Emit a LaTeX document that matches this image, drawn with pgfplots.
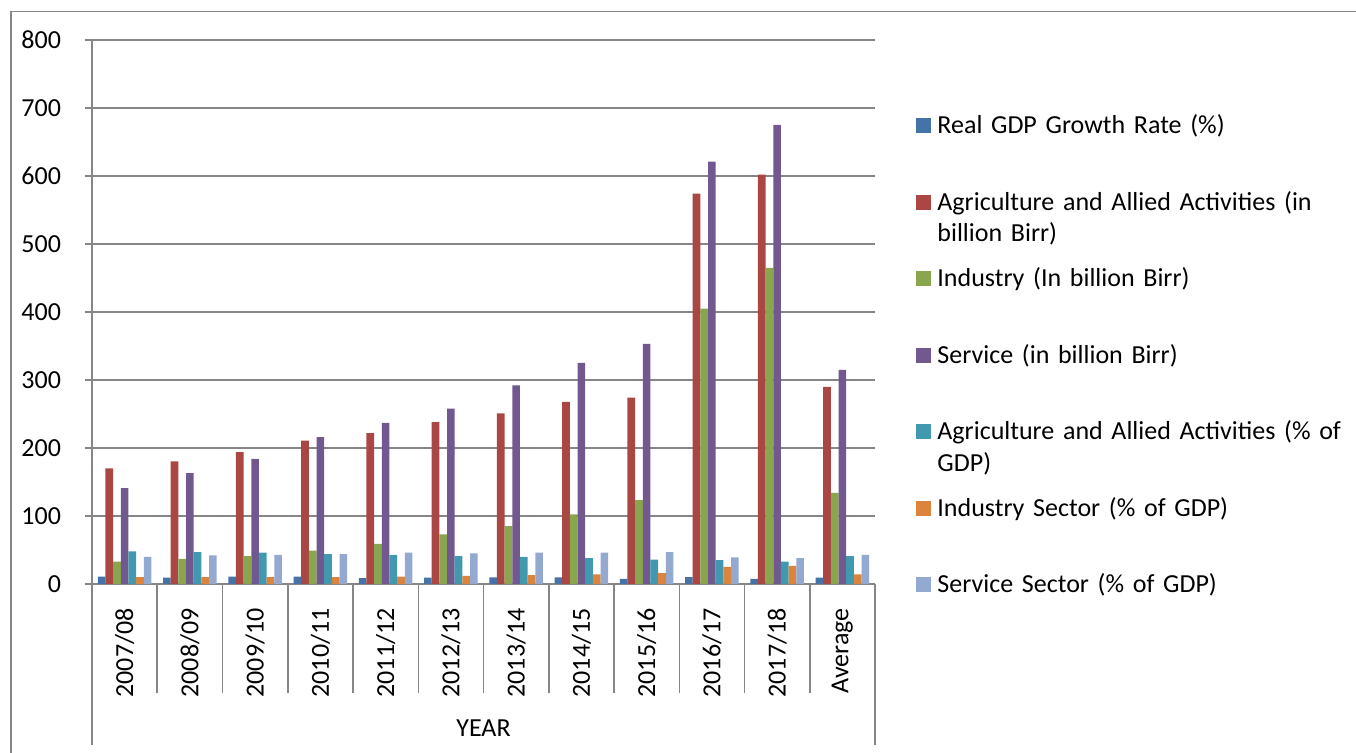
\documentclass[border=0pt]{standalone}
\usepackage{fontspec}
\setmainfont{Carlito}
\usepackage{pgfplots}
\pgfplotsset{compat=1.18}
\usepackage{pgfplotstable}
\definecolor{cA}{HTML}{4572A7}
\definecolor{cB}{HTML}{AA4643}
\definecolor{cC}{HTML}{89A54E}
\definecolor{cD}{HTML}{71588F}
\definecolor{cE}{HTML}{4198AF}
\definecolor{cF}{HTML}{DB843D}
\definecolor{cG}{HTML}{93A9CF}
\definecolor{axgray}{HTML}{868686}
\newcommand{\cf}{\fontsize{13}{15.85}\selectfont}

\pgfplotstableread{
x gdp agr ind ser agrp indp serp
0 10.8 170 33 141 48 10 40
1 9.3 180.5 37 163 47 10 42
2 10.7 194 41 184 46 10 43
3 10.7 211 49 216 44 10 44
4 8.5 222 59 237 43 11 46
5 9.5 238 73 258 41 12 45
6 9.9 251 85 292 40 13 46
7 9.9 268 102.5 325 38 14 46
8 7.5 274 123.5 353 36 16 47
9 10.2 574 405 621 35 25 39
10 7.5 602 465 675 33 26.5 38
11 9.4 290 134 315 41 14 43
}\datatable

\begin{document}
\begin{tikzpicture}
\useasboundingbox (-46pt,-84.5pt) rectangle (632pt,292pt);
\draw[axgray, line width=0.6pt] (-40.5pt,-86pt) -- (-40.5pt,286.25pt) -- (634pt,286.25pt);
\begin{axis}[
  at={(0pt,0pt)}, anchor=south west,
  scale only axis, width=391.5pt, height=272pt,
  xmin=-0.5, xmax=11.5, ymin=0, ymax=800,
  ytick={0,100,...,800},
  xtick={0,...,11},
  xticklabels={2007/08,2008/09,2009/10,2010/11,2011/12,2012/13,2013/14,2014/15,2015/16,2016/17,2017/18,Average},
  axis x line=bottom, axis y line=left,
  axis line style={axgray, line width=0.75pt, -},
  ymajorgrids, grid style={axgray, line width=0.75pt},
  tick align=outside, major tick length=3.5pt,
  ytick style={axgray, line width=0.75pt},
  xtick style={draw=none},
  tick label style={font=\cf},
  /pgf/number format/assume math mode=true,
  yticklabel style={anchor=east, inner sep=0pt, xshift=-11.8pt},
  xticklabel style={yshift=-8.5pt, rotate=90, anchor=east, inner sep=0pt},
  xlabel={YEAR},
  xlabel style={font=\cf, at={(axis description cs:0.5,0)}, anchor=center, yshift=-72pt, inner sep=0pt},
  ybar=0pt, bar width=3.833pt,
  clip=false,
  legend cell align=left,
  legend style={at={(axis description cs:1.0524,0.8653)}, anchor=north west, draw=none, fill=none, inner sep=0pt, font=\cf, row sep=0pt, column sep=3pt, cells={anchor=base west}, nodes={inner sep=0pt, text width=215pt, text height=10pt, text depth=28.25pt, align=left, anchor=base west}},
  legend image code/.code={\draw[#1,draw=none] (0pt,0.3pt) rectangle (7.5pt,7.6pt);},
]
\addplot[fill=cA, draw=none] table[x=x,y=gdp]{\datatable};
\addlegendentry{Real GDP Growth Rate (\%)}
\addplot[fill=cB, draw=none] table[x=x,y=agr]{\datatable};
\addlegendentry{Agriculture and Allied Activities (in\newline billion Birr)}
\addplot[fill=cC, draw=none] table[x=x,y=ind]{\datatable};
\addlegendentry{Industry (In billion Birr)}
\addplot[fill=cD, draw=none] table[x=x,y=ser]{\datatable};
\addlegendentry{Service (in billion Birr)}
\addplot[fill=cE, draw=none] table[x=x,y=agrp]{\datatable};
\addlegendentry{Agriculture and Allied Activities (\% of\newline GDP)}
\addplot[fill=cF, draw=none] table[x=x,y=indp]{\datatable};
\addlegendentry{Industry Sector (\% of GDP)}
\addplot[fill=cG, draw=none] table[x=x,y=serp]{\datatable};
\addlegendentry{Service Sector (\% of GDP)}
\pgfplotsinvokeforeach{0.5,1.5,...,10.5}{\draw[axgray, line width=0.75pt] (axis cs:#1,0) -- ++(0pt,-54.5pt);}
\draw[axgray, line width=0.75pt] (axis cs:-0.5,0) -- ++(0pt,-80.5pt);
\draw[axgray, line width=0.75pt] (axis cs:11.5,0) -- ++(0pt,-80.5pt);
\end{axis}
\end{tikzpicture}
\end{document}
